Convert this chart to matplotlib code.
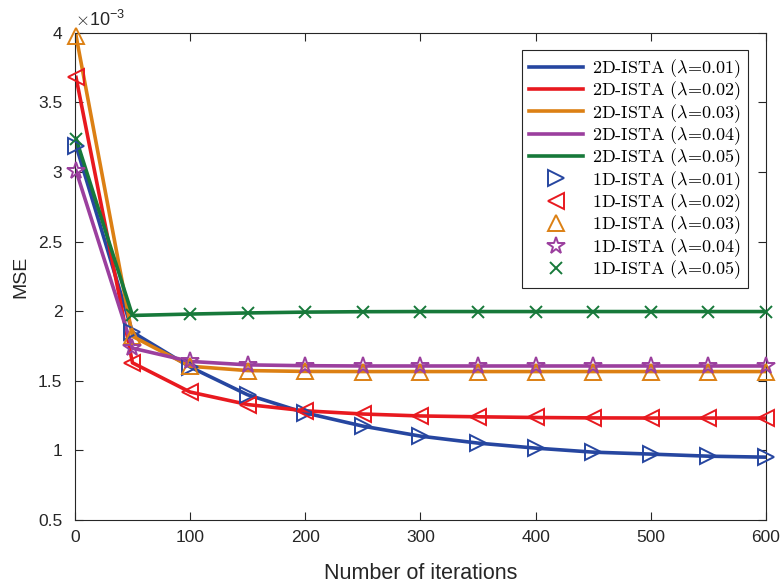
import numpy as np
import matplotlib
matplotlib.use('Agg')
import matplotlib.pyplot as plt
from matplotlib.ticker import FuncFormatter, MultipleLocator

plt.rcParams['font.family'] = ['Liberation Sans', 'DejaVu Sans']
plt.rcParams['mathtext.fontset'] = 'cm'

# Iterations where values are sampled
iterations = [1, 50, 100, 150, 200, 250, 300, 350, 400, 450, 500, 550, 600]

# MSE values (x1e-3)
mse_l001 = [3.19, 1.85, 1.60, 1.40, 1.27, 1.175, 1.103, 1.053, 1.017, 0.988, 0.974, 0.959, 0.952]
mse_l002 = [3.68, 1.63, 1.42, 1.33, 1.285, 1.262, 1.248, 1.242, 1.237, 1.234, 1.233, 1.233, 1.233]
mse_l003 = [3.98, 1.82, 1.605, 1.574, 1.568, 1.567, 1.567, 1.567, 1.567, 1.567, 1.567, 1.567, 1.567]
mse_l004 = [3.01, 1.735, 1.64, 1.615, 1.609, 1.607, 1.607, 1.607, 1.607, 1.607, 1.607, 1.607, 1.607]
mse_l005 = [3.24, 1.97, 1.98, 1.988, 1.994, 1.997, 1.998, 1.998, 1.998, 1.998, 1.998, 1.998, 1.998]

lambdas = ['0.01', '0.02', '0.03', '0.04', '0.05']
series = [mse_l001, mse_l002, mse_l003, mse_l004, mse_l005]
colors = ['#2646a0', '#e8191f', '#dc8014', '#9b3f9e', '#17793a']
markers = ['>', '<', '^', '*', 'x']
marker_sizes = [11, 11, 12, 13, 8]

fig = plt.figure(figsize=(7.8, 5.87), dpi=100)
ax = fig.add_axes([0.096, 0.114, 0.886, 0.83])

x = np.array(iterations)
for lam, vals, c in zip(lambdas, series, colors):
    ax.plot(x, np.array(vals) * 1e-3, color=c, linewidth=2.6,
            label=r'2D-ISTA ($\lambda$=' + lam + ')', zorder=2)
for lam, vals, c, m, ms in zip(lambdas, series, colors, markers, marker_sizes):
    ax.plot(x, np.array(vals) * 1e-3, linestyle='none', marker=m, markersize=ms,
            markerfacecolor='none', markeredgecolor=c, markeredgewidth=1.4,
            label=r'1D-ISTA ($\lambda$=' + lam + ')', zorder=3, clip_on=False)

ax.set_xlim(0, 600)
ax.set_ylim(0.5e-3, 4e-3)
ax.xaxis.set_major_locator(MultipleLocator(100))
ax.yaxis.set_major_locator(MultipleLocator(0.5e-3))
ax.yaxis.set_major_formatter(FuncFormatter(lambda v, _: f'{v * 1e3:g}'))
ax.tick_params(direction='in', top=True, right=True, length=6, width=0.8,
               labelsize=12.5, colors='#262626')
ax.tick_params(axis='y', pad=9)
ax.tick_params(axis='x', pad=7)
for s in ax.spines.values():
    s.set_color('#262626')
    s.set_linewidth(0.8)

ax.text(0.0, 1.005, r'$\times\mathregular{10^{-3}}$', transform=ax.transAxes,
        fontsize=13, ha='left', va='bottom', color='#262626',
        family='Liberation Sans')

ax.set_xlabel('Number of iterations', fontsize=15.5, color='#262626', labelpad=13)
ax.set_ylabel('MSE', fontsize=14, color='#262626', labelpad=6)

leg = ax.legend(loc='upper right', bbox_to_anchor=(0.974, 0.965), borderaxespad=0,
                prop={'family': 'cmr10', 'size': 13}, handlelength=3.0,
                labelspacing=-0.02, borderpad=0.4, handletextpad=0.5,
                fancybox=False, framealpha=1, edgecolor='#262626')
leg.get_frame().set_linewidth(0.8)

fig.savefig('out.png', dpi=100)
